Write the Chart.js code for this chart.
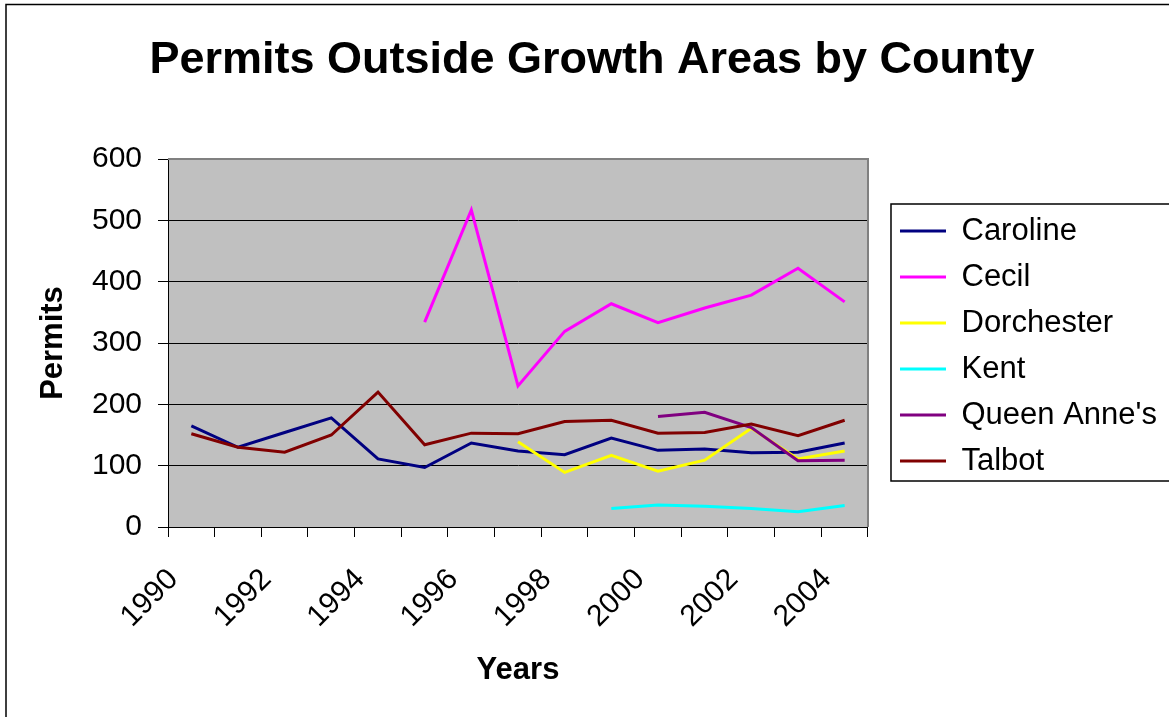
<!DOCTYPE html>
<html>
<head>
<meta charset="utf-8">
<script src="https://cdn.jsdelivr.net/npm/chart.js@4.4.1/dist/chart.umd.min.js"></script>
<style>
  html, body { margin: 0; padding: 0; background: #fff; }
  #wrap { width: 1169px; height: 717px; }
</style>
</head>
<body>
<div id="wrap"><canvas id="chart" width="1169" height="717"></canvas></div>
<script>
var years = ['1990','1991','1992','1993','1994','1995','1996','1997','1998','1999','2000','2001','2002','2003','2004'];
var caroline   = [165, 130, 154, 178, 111, 97, 137, 124, 118, 145, 125, 127, 121, 122, 137];
var cecil      = [null, null, null, null, null, 334, 517, 230, 319, 364, 333, 357, 378, 422, 367];
var dorchester = [null, null, null, null, null, null, null, 139, 89, 117, 91, 109, 161, 111, 124];
var kent       = [null, null, null, null, null, null, null, null, null, 30, 36, 34, 30, 25, 35];
var queenAnnes = [null, null, null, null, null, null, null, null, null, null, 180, 187, 162, 108, 109];
var talbot     = [152, 130, 122, 150, 220, 134, 153, 152, 172, 174, 153, 154, 168, 149, 174];
var yTicks = [0, 100, 200, 300, 400, 500, 600];

var FONT = "'Liberation Sans', Arial, sans-serif";

var names  = ['Caroline', 'Cecil', 'Dorchester', 'Kent', "Queen Anne's", 'Talbot'];
var series = [caroline, cecil, dorchester, kent, queenAnnes, talbot];
var colors = ['#000080', '#FF00FF', '#FFFF00', '#00FFFF', '#800080', '#800000'];

var datasets = [];
for (var i = 0; i < series.length; i++) {
    datasets.push({
        label: names[i],
        data: series[i],
        borderColor: colors[i],
        backgroundColor: colors[i],
        borderWidth: 3,
        pointRadius: 0,
        pointHoverRadius: 0,
        tension: 0,
        spanGaps: false,
        order: series.length - i   // later series drawn on top, like the original
    });
}

// page frame, grey plot area, legend box
var framePlugin = {
    id: 'frame',
    afterLayout: function(chart) {
        // nudge legend and title to where the original has them
        chart.legend.left += 17;
        chart.legend.right += 17;
        chart.legend.top += 3;
        chart.legend.bottom += 3;
        chart.titleBlock.left += 34;
    },
    beforeDraw: function(chart) {
        var ctx = chart.ctx, a = chart.chartArea;
        ctx.save();
        ctx.fillStyle = '#fff';
        ctx.fillRect(0, 0, chart.width, chart.height);
        ctx.strokeStyle = '#000';
        ctx.lineWidth = 1.5;
        ctx.strokeRect(6, 4.5, chart.width + 20, chart.height + 20);
        ctx.fillStyle = '#C0C0C0';
        ctx.fillRect(a.left, a.top, a.right - a.left, a.bottom - a.top);
        ctx.restore();
    },
    beforeDatasetsDraw: function(chart) {
        var ctx = chart.ctx, a = chart.chartArea;
        ctx.save();
        ctx.strokeStyle = '#808080';
        ctx.lineWidth = 2;
        ctx.beginPath();
        ctx.moveTo(a.left, a.top);
        ctx.lineTo(a.right, a.top);
        ctx.lineTo(a.right, a.bottom);
        ctx.stroke();
        ctx.restore();
    },
    afterDraw: function(chart) {
        var lg = chart.legend, hb = lg.legendHitBoxes;
        if (!hb || !hb.length) return;
        var ctx = chart.ctx;
        var top = hb[0].top - 11.5;
        var last = hb[hb.length - 1];
        var bottom = last.top + last.height + 4.5;
        ctx.save();
        ctx.strokeStyle = '#000';
        ctx.lineWidth = 1.5;
        ctx.strokeRect(lg.left + 6, top, chart.width, bottom - top);
        ctx.restore();
    }
};

new Chart(document.getElementById('chart'), {
    type: 'line',
    data: { labels: years, datasets: datasets },
    plugins: [framePlugin],
    options: {
        responsive: false,
        animation: false,
        layout: { padding: { left: 0, right: 19, top: 0, bottom: 0 } },
        plugins: {
            title: {
                display: true,
                text: 'Permits Outside Growth Areas by County',
                color: '#000',
                font: { family: FONT, size: 45, weight: 'bold' },
                padding: { top: 34, bottom: 71 }
            },
            legend: {
                position: 'right',
                fullSize: false,
                align: 'center',
                labels: {
                    color: '#000',
                    font: { family: FONT, size: 31 },
                    boxWidth: 46,
                    boxHeight: 3,
                    padding: 15,
                    sort: function(a, b) { return a.datasetIndex - b.datasetIndex; },
                    generateLabels: function(chart) {
                        var items = Chart.defaults.plugins.legend.labels.generateLabels(chart);
                        items.forEach(function(it) { it.lineWidth = 0; });
                        return items;
                    }
                }
            },
            tooltip: { enabled: false }
        },
        scales: {
            x: {
                type: 'category',
                offset: true,
                grid: { offset: true, drawOnChartArea: false, drawTicks: true, tickLength: 10, color: '#000', lineWidth: 1 },
                border: { color: '#000', width: 1 },
                ticks: {
                    autoSkip: false,
                    minRotation: 45,
                    maxRotation: 45,
                    padding: 25,
                    labelOffset: -18,
                    color: '#000',
                    font: { family: FONT, size: 30 },
                    callback: function(v, idx) { return idx % 2 === 0 ? years[idx] : ''; }
                },
                title: {
                    display: true,
                    text: 'Years',
                    color: '#000',
                    font: { family: FONT, size: 31, weight: 'bold' },
                    padding: { top: 0, bottom: 28 }
                },
                afterFit: function(s) { s.height = 190; }
            },
            y: {
                min: 0,
                max: 600,
                afterBuildTicks: function(s) { s.ticks = yTicks.map(function(v) { return { value: v }; }); },
                grid: { color: '#000', lineWidth: 1, drawTicks: true, tickLength: 10, tickColor: '#000' },
                border: { color: '#000', width: 1 },
                ticks: {
                    padding: 16,
                    color: '#000',
                    font: { family: FONT, size: 30 }
                },
                title: {
                    display: true,
                    text: 'Permits',
                    color: '#000',
                    font: { family: FONT, size: 31, weight: 'bold' },
                    padding: { top: 35, bottom: 0 }
                },
                afterFit: function(s) { s.width = 168; }
            }
        }
    }
});
</script>
</body>
</html>
